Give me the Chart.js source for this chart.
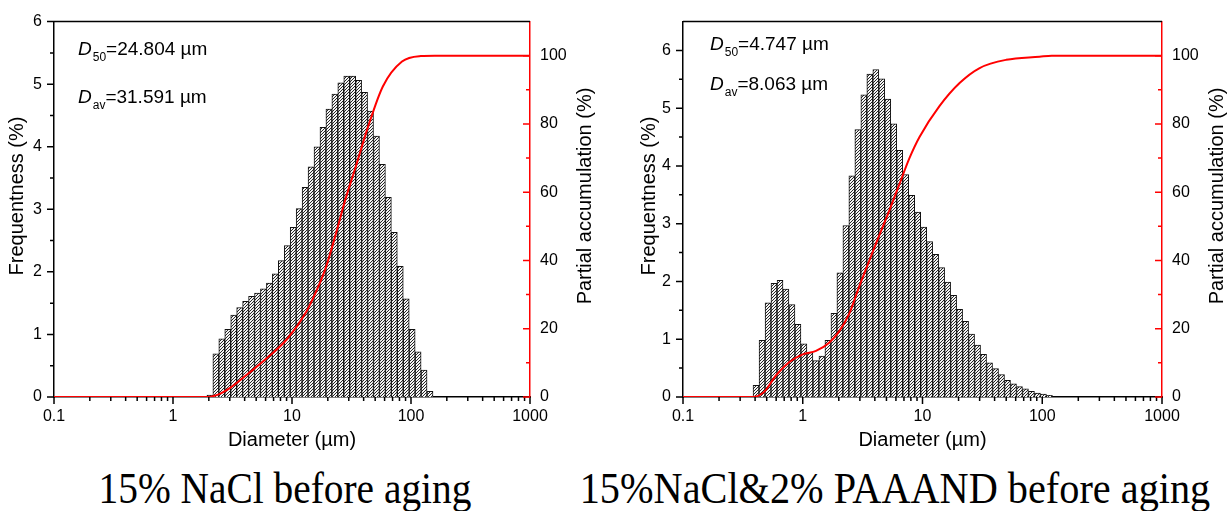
<!DOCTYPE html>
<html>
<head>
<meta charset="utf-8">
<script src="https://cdn.jsdelivr.net/npm/chart.js@4.4.1/dist/chart.umd.min.js"></script>
<style>
  body { margin: 0; background: #fff; width: 1231px; height: 511px; position: relative; overflow: hidden; }
  canvas { position: absolute; top: 0; }
  #c1 { left: 0; }
  #c2 { left: 632px; }
  .cap { position: absolute; top: 466px; font-family: "Liberation Serif", "Times New Roman", serif; font-size: 45px; line-height: 45px; text-align: center; white-space: nowrap; color: #000; transform-origin: center; }
</style>
</head>
<body>
<canvas id="c1" width="601" height="460"></canvas>
<canvas id="c2" width="599" height="460"></canvas>
<div class="cap" style="left:0;width:570px;transform:scaleX(0.875)">15% NaCl before aging</div>
<div class="cap" style="left:515px;width:760px;transform:scaleX(0.895)">15%NaCl&amp;2% PAAAND before aging</div>
<script>
const FONT = '"Liberation Sans", Arial, sans-serif';

// size classes of the analyser (µm), shared by both samples
const sizeClasses = [0.407, 0.457, 0.513, 0.575, 0.646, 0.724, 0.813, 0.912, 1.023, 1.148,
  1.288, 1.445, 1.622, 1.820, 2.042, 2.291, 2.570, 2.884, 3.236, 3.631,
  4.074, 4.571, 5.129, 5.754, 6.457, 7.244, 8.128, 9.120, 10.23, 11.48,
  12.88, 14.45, 16.22, 18.20, 20.42, 22.91, 25.70, 28.84, 32.36, 36.31,
  40.74, 45.71, 51.29, 57.54, 64.57, 72.44, 81.28, 91.20, 102.3, 114.8,
  128.8, 144.5];

// 15% NaCl: frequency (%) per class, first class is 2.042 µm
const naclFreq = [0.03, 0.69, 0.93, 1.08, 1.31, 1.43, 1.53, 1.61, 1.66, 1.73,
  1.82, 1.97, 2.18, 2.42, 2.71, 3.01, 3.35, 3.68, 4.00, 4.31,
  4.60, 4.84, 5.02, 5.13, 5.13, 5.06, 4.87, 4.57, 4.17, 3.72,
  3.19, 2.63, 2.09, 1.57, 1.08, 0.72, 0.43, 0.09];
// 15% NaCl & 2% PAAAND: frequency (%) per class, first class is 0.407 µm
const paaandFreq = [0.20, 0.98, 1.63, 1.97, 2.02, 1.87, 1.60, 1.26, 0.92, 0.77,
  0.63, 0.71, 0.98, 1.45, 2.15, 2.97, 3.83, 4.63, 5.23, 5.59,
  5.67, 5.51, 5.16, 4.73, 4.27, 3.85, 3.49, 3.20, 2.94, 2.69,
  2.47, 2.24, 1.99, 1.76, 1.52, 1.31, 1.09, 0.90, 0.74, 0.59,
  0.49, 0.39, 0.29, 0.23, 0.18, 0.14, 0.10, 0.07, 0.05, 0.03];

// partial accumulation curves (diameter µm / %)
const naclCumD = [0.1, 2.0, 2.2, 2.5, 3.0, 4.3, 6.3, 9.1, 13.2, 16, 19.1, 23.9, 27.6, 34.7, 43.4, 58, 84, 121, 158, 1000];
const naclCumP = [0, 0, 0.3, 1.0, 2.6, 6.9, 11.7, 17, 25, 31, 37.6, 49, 57, 68, 79, 91, 98.3, 99.9, 100, 100];
const paaandCumD = [0.1, 0.38, 0.476, 0.597, 0.77, 1.0, 1.29, 1.66, 2.02, 2.45, 2.97, 3.60, 4.37, 5.29, 6.42, 7.78, 9.44, 13.9, 20.4, 30, 50, 95, 120, 1000];
const paaandCumP = [0, 0, 1.5, 6.3, 10.2, 12.5, 13.5, 15.9, 19.3, 24.5, 32.5, 40, 47.5, 54.7, 62.4, 70, 76.2, 85.3, 92, 96.4, 98.8, 99.7, 100, 100];

const xTickLabels = [0.1, 1, 10, 100, 1000];
const minorSteps = [2, 3, 4, 5, 6, 7, 8, 9];
const y1Minor = [10, 30, 50, 70, 90];

const naclStats = ['24.804', '31.591'];
const paaandStats = ['4.747', '8.063'];

// diagonal hatch fill for the bars
function hatch() {
  const c = document.createElement('canvas');
  c.width = 3; c.height = 3;
  const g = c.getContext('2d');
  g.fillStyle = '#f4f4f4';
  g.fillRect(0, 0, 3, 3);
  g.strokeStyle = '#262626';
  g.lineWidth = 1;
  g.beginPath();
  g.moveTo(0, 3); g.lineTo(3, 0);
  g.moveTo(-1, 1); g.lineTo(1, -1);
  g.moveTo(2, 4); g.lineTo(4, 2);
  g.stroke();
  return g.createPattern(c, 'repeat');
}
const pattern = hatch();

// ticks, top frame line, y titles and the D50 / Dav notes
const decorations = {
  id: 'decorations',
  afterDatasetsDraw(chart, args, o) {
    const { ctx, chartArea: a, scales: { x, y, y1 } } = chart;
    ctx.save();
    ctx.lineWidth = 1.5;
    ctx.strokeStyle = '#000';
    ctx.beginPath();
    ctx.moveTo(a.left, a.top); ctx.lineTo(a.right, a.top);
    x.ticks.forEach(t => {
      const px = x.getPixelForValue(t.value);
      ctx.moveTo(px, a.bottom); ctx.lineTo(px, a.bottom + 7);
    });
    xTickLabels.slice(0, -1).forEach(d => minorSteps.forEach(m => {
      const px = x.getPixelForValue(d * m);
      ctx.moveTo(px, a.bottom); ctx.lineTo(px, a.bottom + 4);
    }));
    y.ticks.forEach(t => {
      const py = y.getPixelForValue(t.value);
      ctx.moveTo(a.left - 7, py); ctx.lineTo(a.left, py);
    });
    for (let v = 0.5; v < y.max; v += 1) {
      const py = y.getPixelForValue(v);
      ctx.moveTo(a.left - 4, py); ctx.lineTo(a.left, py);
    }
    ctx.stroke();

    ctx.strokeStyle = '#f00';
    ctx.beginPath();
    y1.ticks.forEach(t => {
      const py = y1.getPixelForValue(t.value);
      ctx.moveTo(a.right - 7, py); ctx.lineTo(a.right, py);
    });
    y1Minor.forEach(v => {
      const py = y1.getPixelForValue(v);
      ctx.moveTo(a.right - 4, py); ctx.lineTo(a.right, py);
    });
    ctx.stroke();

    ctx.fillStyle = '#000';
    ctx.font = '20px ' + FONT;
    ctx.textAlign = 'center';
    ctx.textBaseline = 'middle';
    [[17, 'Frequentness (%)'], [a.right + 55, 'Partial accumulation (%)']].forEach(([tx, text]) => {
      ctx.save();
      ctx.translate(tx, 196);
      ctx.rotate(-Math.PI / 2);
      ctx.fillText(text, 0, 0);
      ctx.restore();
    });

    ctx.textAlign = 'left';
    ctx.textBaseline = 'alphabetic';
    o.stats.forEach((val, i) => {
      let tx = a.left + o.noteX;
      const ty = o.noteY[i];
      ctx.font = 'italic 19px ' + FONT;
      ctx.fillText('D', tx, ty);
      tx += ctx.measureText('D').width + 1;
      ctx.font = '12px ' + FONT;
      const sub = i === 0 ? '50' : 'av';
      ctx.fillText(sub, tx, ty + 6);
      tx += ctx.measureText(sub).width;
      ctx.font = '19px ' + FONT;
      ctx.fillText('=' + val + ' µm', tx, ty);
    });
    ctx.restore();
  }
};

function makeChart(id, sizes, freq, cumD, cumP, yMax, stats, box) {
  const tickFont = { family: FONT, size: 16 };
  return new Chart(document.getElementById(id), {
    type: 'bar',
    data: {
      datasets: [{
        type: 'line',
        data: cumD.map((d, i) => ({ x: d, y: cumP[i] })),
        yAxisID: 'y1',
        borderColor: '#f00',
        borderWidth: 2,
        pointRadius: 0,
        cubicInterpolationMode: 'monotone',
        order: 0
      }, {
        type: 'bar',
        data: sizes.map((d, i) => ({ x: d, y: freq[i] })),
        yAxisID: 'y',
        backgroundColor: pattern,
        borderColor: '#111',
        borderWidth: 1,
        barPercentage: 1,
        categoryPercentage: 1,
        order: 1
      }]
    },
    options: {
      responsive: false,
      animation: false,
      layout: { padding: { top: 15, left: 0, right: 0, bottom: 0 } },
      plugins: {
        legend: { display: false },
        tooltip: { enabled: false },
        decorations: { stats: stats, noteX: box.noteX, noteY: box.noteY }
      },
      scales: {
        x: {
          type: 'logarithmic',
          min: 0.1,
          max: 1000,
          afterBuildTicks: s => { s.ticks = xTickLabels.map(v => ({ value: v })); },
          afterFit: s => { s.height = 63; },
          grid: { display: false, drawTicks: false },
          border: { color: '#000', width: 1.5 },
          ticks: { padding: 10, color: '#000', font: tickFont, autoSkip: false, maxRotation: 0, callback: v => String(v) },
          title: { display: true, text: 'Diameter (µm)', color: '#000', font: { family: FONT, size: 20 }, padding: { top: 0, bottom: 8 } }
        },
        y: {
          position: 'left',
          min: 0,
          max: yMax,
          afterFit: s => { s.width = box.yWidth; },
          grid: { display: false, drawTicks: false },
          border: { color: '#000', width: 1.5 },
          ticks: { stepSize: 1, includeBounds: false, padding: 12, color: '#000', font: tickFont }
        },
        y1: {
          position: 'right',
          min: 0,
          max: 110,
          afterFit: s => { s.width = box.y1Width; },
          grid: { display: false, drawTicks: false },
          border: { color: '#f00', width: 1.5 },
          ticks: { stepSize: 20, includeBounds: false, padding: 10, color: '#000', font: tickFont }
        }
      }
    },
    plugins: [decorations]
  });
}

makeChart('c1', sizeClasses.slice(14), naclFreq, naclCumD, naclCumP, 6, naclStats,
  { yWidth: 54, y1Width: 71, noteX: 24, noteY: [55, 103] });
makeChart('c2', sizeClasses.slice(0, 50), paaandFreq, paaandCumD, paaandCumP, 6.5, paaandStats,
  { yWidth: 51, y1Width: 69, noteX: 27, noteY: [50, 90] });
</script>
</body>
</html>
